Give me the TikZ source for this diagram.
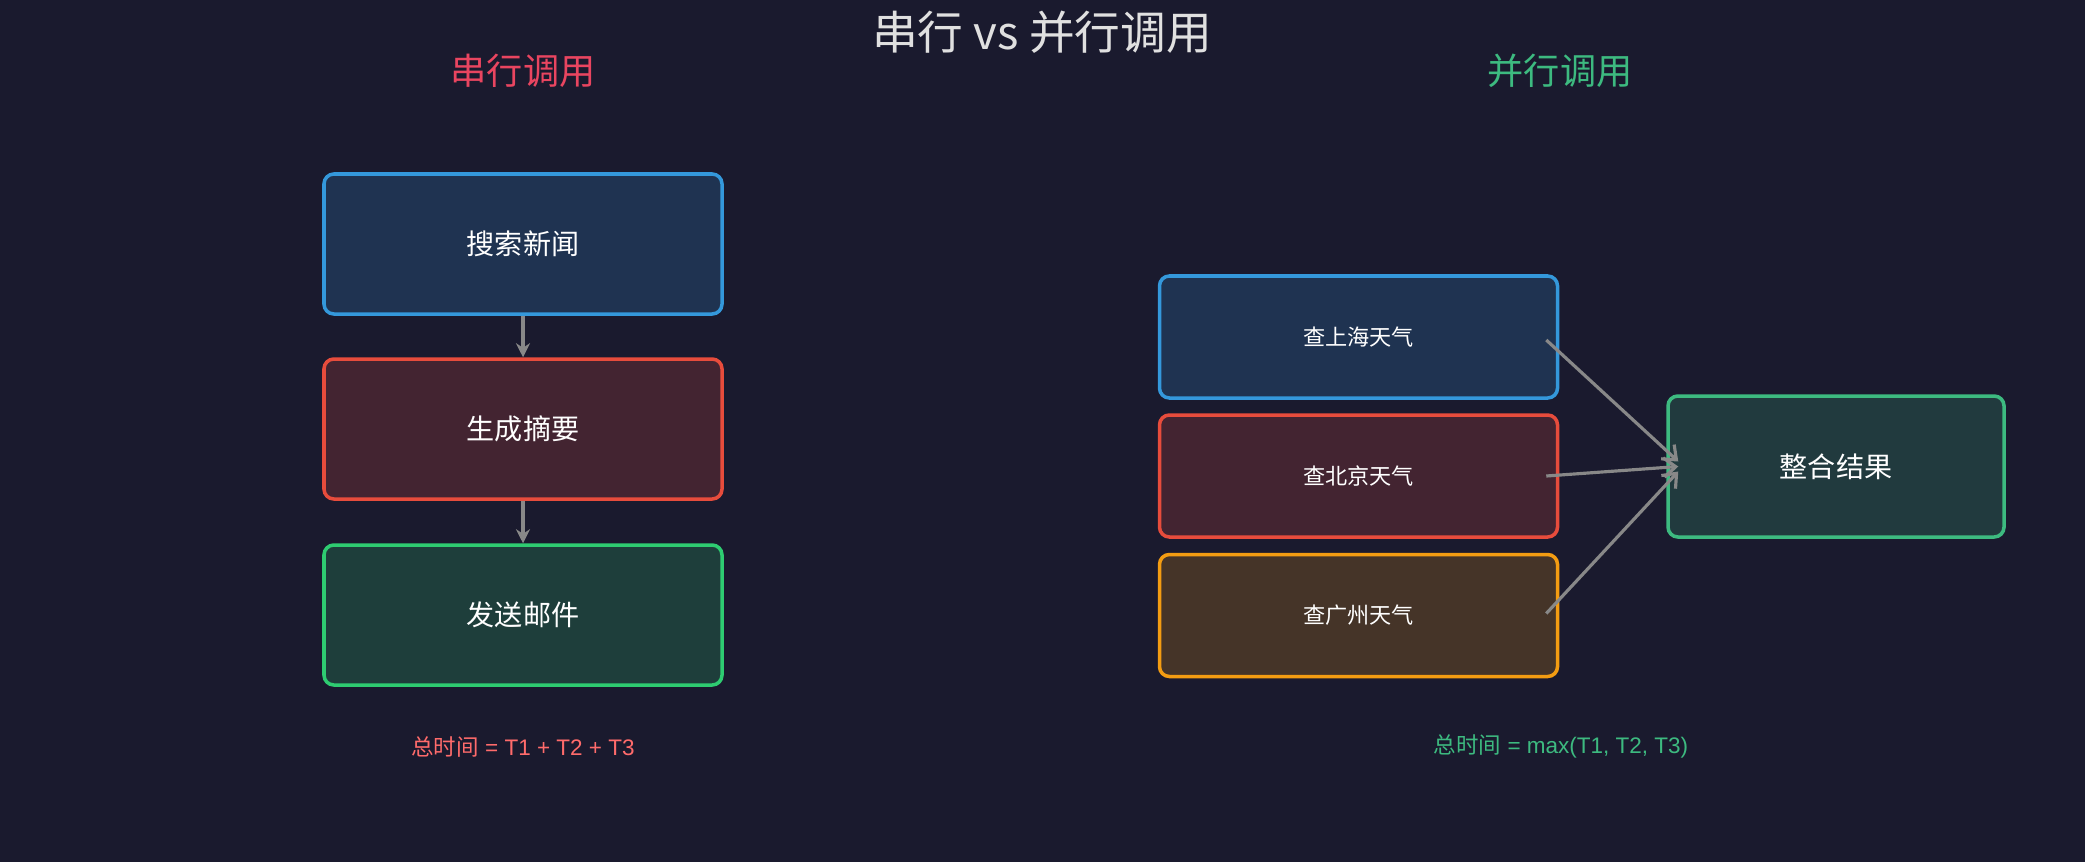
\documentclass[tikz,border=0pt]{standalone}
\usepackage{fontspec}
\setmainfont{Noto Sans CJK SC}
\newfontfamily\latinfont{Liberation Sans}
\usepackage{xcolor}
\usepackage{tikz}
\usetikzlibrary{arrows.meta,calc,positioning}

\definecolor{bgdark}{HTML}{1A1A2E}
\definecolor{cblue}{HTML}{3498DB}
\definecolor{cred}{HTML}{E74C3C}
\definecolor{cgreen}{HTML}{2ECC71}
\definecolor{corange}{HTML}{F39C12}
\definecolor{cteal}{HTML}{3DBA80}
\definecolor{cpink}{HTML}{E94560}
\definecolor{csalmon}{HTML}{FF6B6B}
\definecolor{ctitle}{HTML}{E0E0E0}
\definecolor{carrow}{HTML}{888888}

\tikzset{
  task/.style={draw=#1, fill=#1!20!bgdark, line width=1pt, rounded corners=2.8pt,
    text=white, minimum width=3.98cm, minimum height=1.40cm, font=\fontsize{8}{9}\selectfont},
  ptask/.style={task=#1, minimum height=1.22cm, font=\fontsize{6.3}{7}\selectfont},
  flow/.style={draw=carrow, line width=1pt, -{Stealth[length=4pt,width=4pt]}},
  pflow/.style={draw=carrow, line width=0.9pt, -{Straight Barb[length=3.4pt,width=5.5pt]}},
  total/.style={text=#1, font=\fontsize{6.4}{7}\selectfont}
}

\begin{document}
\begin{tikzpicture}
            \fill[bgdark] (0,0) rectangle (20.85,8.62);
            \useasboundingbox (0,0) rectangle (20.85,8.62);

            % titles
            \node[text=ctitle, font=\fontsize{13}{15}\selectfont] at (10.42,8.30) (title) {串行 vs 并行调用};
            \node[text=cpink, font=\fontsize{10.3}{12}\selectfont] at (5.23,7.91) (sertitle) {串行调用};
            \node[text=cteal, font=\fontsize{10.3}{12}\selectfont] at (15.60,7.91) (partitle) {并行调用};

            % serial
            \node[task=cblue] at (5.23,6.18) (ser1) {搜索新闻};
            \node[task=cred] at (5.23,4.33) (ser2) {生成摘要};
            \node[task=cgreen] at (5.23,2.47) (ser3) {发送邮件};
            \draw[flow] (ser1.south) -- (ser2.north);
            \draw[flow] (ser2.south) -- (ser3.north);
            \node[total=csalmon] at (5.23,1.15) (sertime) {总时间{\latinfont\ = T1 + T2 + T3}};

            % parallel
            \node[ptask=cblue] at (13.585,5.25) (par1) {查上海天气};
            \node[ptask=cred] at (13.585,3.86) (par2) {查北京天气};
            \node[ptask=corange] at (13.585,2.465) (par3) {查广州天气};
            \node[task=cteal, minimum width=3.36cm, minimum height=1.41cm] at (18.36,3.955) (merge) {整合结果};
            \draw[pflow] ($(par1.east)+(-0.13,-0.03)$) -- ($(merge.west)+(0.12,0.05)$);
            \draw[pflow] ($(par2.east)+(-0.13,0)$) -- ($(merge.west)+(0.12,0)$);
            \draw[pflow] ($(par3.east)+(-0.13,0.02)$) -- ($(merge.west)+(0.12,-0.05)$);
            \node[total=cteal] at (15.61,1.16) (partime) {总时间{\latinfont\ = max(T1, T2, T3)}};
        \end{tikzpicture}
\end{document}
